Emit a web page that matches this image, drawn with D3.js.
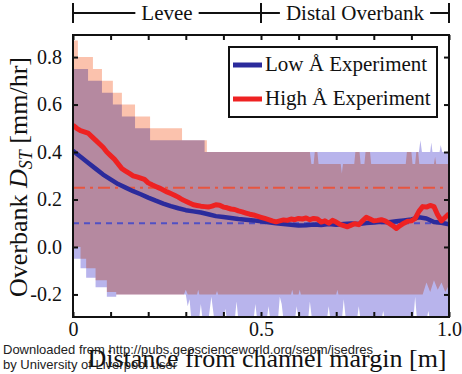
<!DOCTYPE html>
<html>
<head>
<meta charset="utf-8">
<script src="https://cdn.jsdelivr.net/npm/d3@7"></script>
<style>
  html, body { margin: 0; padding: 0; background: #fff; }
  svg { display: block; }
</style>
</head>
<body>
<svg id="chart" width="462" height="374"></svg>
<script>
// ---- data -------------------------------------------------------------
// Mean overbank deposition rate along the transect, per experiment
const lowX  = [0,0.02,0.04,0.06,0.08,0.10,0.12,0.14,0.16,0.18,0.20,0.22,0.24,0.26,0.28,0.30,0.32,0.34,0.36,0.38,0.40,0.42,0.44,0.46,0.48,0.50,0.52,0.54,0.56,0.58,0.60,0.62,0.64,0.66,0.68,0.70,0.72,0.74,0.76,0.78,0.80,0.82,0.84,0.86,0.88,0.90,0.92,0.94,0.96,0.98,1.00];
const lowMean = [0.405,0.38,0.355,0.33,0.305,0.285,0.265,0.25,0.235,0.222,0.208,0.195,0.183,0.172,0.163,0.155,0.15,0.145,0.138,0.13,0.126,0.122,0.118,0.115,0.112,0.108,0.104,0.10,0.097,0.094,0.09,0.092,0.095,0.093,0.097,0.094,0.097,0.099,0.097,0.101,0.103,0.106,0.104,0.108,0.112,0.116,0.125,0.12,0.105,0.102,0.095];

const highX = [0,0.01,0.02,0.03,0.04,0.05,0.06,0.07,0.08,0.09,0.10,0.11,0.12,0.13,0.14,0.15,0.16,0.17,0.18,0.19,0.20,0.21,0.22,0.23,0.24,0.25,0.26,0.27,0.28,0.29,0.30,0.31,0.32,0.33,0.34,0.35,0.36,0.37,0.38,0.39,0.40,0.41,0.42,0.43,0.44,0.45,0.46,0.47,0.48,0.49,0.50,0.51,0.52,0.53,0.54,0.55,0.56,0.57,0.58,0.59,0.60,0.61,0.62,0.63,0.64,0.65,0.66,0.67,0.68,0.69,0.70,0.71,0.72,0.73,0.74,0.75,0.76,0.77,0.78,0.79,0.80,0.81,0.82,0.83,0.84,0.85,0.86,0.87,0.88,0.89,0.90,0.91,0.92,0.93,0.94,0.95,0.96,0.97,0.98,0.99,1.00];
const highMean = [0.513,0.50,0.49,0.485,0.48,0.465,0.45,0.435,0.42,0.40,0.385,0.37,0.35,0.33,0.32,0.31,0.30,0.295,0.29,0.285,0.27,0.262,0.255,0.248,0.24,0.232,0.225,0.218,0.21,0.20,0.193,0.185,0.178,0.175,0.172,0.17,0.168,0.172,0.178,0.176,0.168,0.165,0.16,0.158,0.152,0.148,0.143,0.138,0.135,0.13,0.125,0.12,0.115,0.11,0.106,0.11,0.114,0.112,0.118,0.115,0.12,0.118,0.122,0.115,0.12,0.118,0.105,0.11,0.10,0.112,0.105,0.095,0.09,0.085,0.092,0.098,0.094,0.11,0.125,0.118,0.11,0.112,0.115,0.11,0.10,0.09,0.078,0.09,0.10,0.108,0.11,0.12,0.15,0.17,0.168,0.175,0.17,0.135,0.11,0.125,0.14];

// Envelope (min / max) of each experiment: [x, value] breakpoints.
// Staircase parts hold a value until the next x; noisy parts are joined directly.
const lowUpperSteps  = [[0,0.75],[0.04,0.70],[0.077,0.65],[0.106,0.60],[0.13,0.55],[0.165,0.50],[0.205,0.45],[0.35,0.40]];
const lowUpperTail   = [[0.35,0.40],[0.92,0.40],[0.924,0.45],[0.928,0.40],[0.95,0.40],[0.953,0.44],[0.956,0.40],[0.975,0.40],[0.978,0.43],[0.982,0.40],[1.0,0.40]];
const lowLowerSteps  = [[0,-0.05],[0.02,-0.09],[0.035,-0.13],[0.06,-0.17],[0.09,-0.21],[0.115,-0.20]];
const lowLowerTail   = [[0.115,-0.20],[0.30,-0.20],[0.305,-0.25],[0.31,-0.22],[0.315,-0.31],[0.335,-0.31],[0.34,-0.24],[0.345,-0.31],[0.36,-0.31],[0.368,-0.21],[0.376,-0.31],[0.40,-0.31],[0.405,-0.26],[0.41,-0.31],[0.43,-0.31],[0.435,-0.23],[0.44,-0.31],[0.48,-0.31],[0.485,-0.24],[0.49,-0.31],[0.515,-0.31],[0.52,-0.25],[0.525,-0.31],[0.545,-0.31],[0.55,-0.21],[0.555,-0.24],[0.56,-0.31],[0.59,-0.31],[0.595,-0.25],[0.60,-0.31],[0.625,-0.31],[0.63,-0.23],[0.636,-0.31],[0.675,-0.31],[0.68,-0.25],[0.685,-0.31],[0.715,-0.31],[0.72,-0.22],[0.726,-0.31],[0.755,-0.31],[0.76,-0.25],[0.765,-0.31],[0.82,-0.31],[0.825,-0.27],[0.83,-0.31],[0.905,-0.31],[0.91,-0.21],[0.915,-0.31],[0.94,-0.31],[0.945,-0.27],[0.95,-0.31],[1.0,-0.31]];

const highUpperSteps = [[0,0.87],[0.013,0.80],[0.053,0.75],[0.077,0.70],[0.106,0.65],[0.13,0.60],[0.165,0.55],[0.205,0.50],[0.29,0.45],[0.356,0.40]];
const highUpperTail  = [[0.356,0.40],[0.630,0.40],[0.634,0.35],[0.640,0.35],[0.643,0.40],[0.650,0.40],[0.653,0.35],[0.712,0.35],[0.715,0.31],[0.718,0.35],[0.748,0.35],[0.751,0.40],[0.762,0.40],[0.765,0.35],[0.775,0.35],[0.778,0.40],[0.790,0.40],[0.793,0.35],[0.885,0.35],[0.888,0.40],[0.900,0.40],[0.903,0.35],[0.910,0.35],[0.913,0.40],[0.918,0.40],[0.921,0.35],[0.960,0.35],[0.963,0.38],[0.966,0.35],[1.0,0.35]];
const highLowerSteps = [[0,0.0],[0.02,-0.05],[0.035,-0.09],[0.06,-0.14],[0.09,-0.19],[0.115,-0.20]];
const highLowerTail  = [[0.115,-0.20],[0.295,-0.20],[0.30,-0.18],[0.305,-0.20],[0.33,-0.20],[0.333,-0.18],[0.336,-0.20],[0.38,-0.20],[0.383,-0.185],[0.386,-0.20],[0.58,-0.20],[0.583,-0.18],[0.586,-0.20],[0.60,-0.20],[0.603,-0.18],[0.606,-0.20],[0.70,-0.20],[0.703,-0.18],[0.706,-0.20],[0.93,-0.20],[0.94,-0.15],[0.95,-0.19],[0.96,-0.14],[0.97,-0.18],[0.98,-0.15],[0.99,-0.19],[1.0,-0.16]];

// Long-term averages (horizontal reference lines)
const lowAverage  = 0.10;
const highAverage = 0.25;

// Axis ticks
const xTicks = [0,0.1,0.2,0.3,0.4,0.5,0.6,0.7,0.8,0.9,1.0];
const xTickLabels = {0:"0", 0.5:"0.5", 1:"1.0"};
const yTicks = [-0.2,0,0.2,0.4,0.6,0.8];
const yTickLabels = ["-0.2","0.0","0.2","0.4","0.6","0.8"];

// Region bracket above the plot
const zones = [{name:"Levee", from:0, to:0.5}, {name:"Distal Overbank", from:0.5, to:1.0}];
const seriesNames = ["Low Å Experiment", "High Å Experiment"];

// ---- layout ----------------------------------------------------------
const SERIF = '"Liberation Serif", "Times New Roman", serif';
const svg = d3.select("#chart");
const L = 73, R = 449, T = 35, B = 317;
const x = d3.scaleLinear().domain([0, 1]).range([L, R]);
const y = d3.scaleLinear().domain([-0.295, 0.893]).range([B, T]);

const colLowLine = "#2b2b9c", colHighLine = "#ee2222";
const colLowBand = "#b8b4ec", colHighBand = "#fbc2ad";

svg.append("defs").append("clipPath").attr("id", "plotclip")
  .append("rect").attr("x", L).attr("y", T).attr("width", R - L).attr("height", B - T);

// expand staircase breakpoints into corner points
function stairs(steps, endX) {
  const pts = [];
  steps.forEach((s, i) => {
    const next = i + 1 < steps.length ? steps[i + 1][0] : endX;
    pts.push([s[0], s[1]], [next, s[1]]);
  });
  return pts;
}
function envelope(upSteps, upTail, loSteps, loTail) {
  const up = stairs(upSteps, upTail[0][0]).concat(upTail);
  const lo = stairs(loSteps, loTail[0][0]).concat(loTail);
  return up.concat(lo.slice().reverse());
}
const poly = d3.line().x(d => x(d[0])).y(d => y(d[1])).curve(d3.curveLinear);

const bands = svg.append("g").attr("clip-path", "url(#plotclip)").style("isolation", "isolate");
bands.append("path")
  .attr("d", poly(envelope(lowUpperSteps, lowUpperTail, lowLowerSteps, lowLowerTail)) + "Z")
  .attr("fill", colLowBand);
bands.append("path")
  .attr("d", poly(envelope(highUpperSteps, highUpperTail, highLowerSteps, highLowerTail)) + "Z")
  .attr("fill", colHighBand)
  .style("mix-blend-mode", "multiply");

// averages
const refs = svg.append("g").attr("clip-path", "url(#plotclip)");
refs.append("line").attr("x1", L).attr("x2", R).attr("y1", y(highAverage)).attr("y2", y(highAverage))
  .attr("stroke", "#e8553f").attr("stroke-width", 2).attr("stroke-dasharray", "12,5,3,5");
refs.append("line").attr("x1", L).attr("x2", R).attr("y1", y(lowAverage)).attr("y2", y(lowAverage))
  .attr("stroke", "#5050c4").attr("stroke-width", 2).attr("stroke-dasharray", "6,5");

// mean curves
const meanLine = d3.line().x(d => x(d[0])).y(d => y(d[1])).curve(d3.curveLinear);
const lines = svg.append("g").attr("clip-path", "url(#plotclip)");
lines.append("path").datum(lowX.map((v, i) => [v, lowMean[i]]))
  .attr("d", meanLine).attr("fill", "none").attr("stroke", colLowLine)
  .attr("stroke-width", 4.5).attr("stroke-linejoin", "round");
lines.append("path").datum(highX.map((v, i) => [v, highMean[i]]))
  .attr("d", meanLine).attr("fill", "none").attr("stroke", colHighLine)
  .attr("stroke-width", 5).attr("stroke-linejoin", "round");

// axes: ticks on all four sides, pointing inward
const tickLen = 5;
const xb = svg.append("g").attr("transform", `translate(0,${B})`)
  .call(d3.axisBottom(x).tickValues(xTicks).tickSizeInner(-tickLen).tickSizeOuter(0)
    .tickFormat(d => xTickLabels[d] || ""));
const xt = svg.append("g").attr("transform", `translate(0,${T})`)
  .call(d3.axisTop(x).tickValues(xTicks).tickSizeInner(-tickLen).tickSizeOuter(0).tickFormat(""));
const yl = svg.append("g").attr("transform", `translate(${L},0)`)
  .call(d3.axisLeft(y).tickValues(yTicks).tickSizeInner(-tickLen).tickSizeOuter(0)
    .tickFormat((d, i) => yTickLabels[i]));
const yr = svg.append("g").attr("transform", `translate(${R},0)`)
  .call(d3.axisRight(y).tickValues(yTicks).tickSizeInner(-tickLen).tickSizeOuter(0).tickFormat(""));
[xb, xt, yl, yr].forEach(g => {
  g.select(".domain").remove();
  g.selectAll(".tick line").attr("stroke", "#111").attr("stroke-width", 2);
  g.selectAll(".tick text").style("font-family", SERIF).style("font-size", "20px").attr("fill", "#111");
});
xb.selectAll(".tick text").attr("dy", null).attr("y", 19);
yl.selectAll(".tick text").attr("x", -11);

svg.append("rect").attr("x", L).attr("y", T).attr("width", R - L).attr("height", B - T)
  .attr("fill", "none").attr("stroke", "#111").attr("stroke-width", 2);

// region bracket
const brY = 13;
const br = svg.append("g");
const brEnds = [0, 0.5, 1.0];
brEnds.forEach(v => br.append("line").attr("x1", x(v)).attr("x2", x(v)).attr("y1", 3).attr("y2", 23)
  .attr("stroke", "#111").attr("stroke-width", 2));
zones.forEach(z => {
  const cx = (x(z.from) + x(z.to)) / 2;
  const t = br.append("text").style("font-family", SERIF).attr("fill", "#111").attr("x", cx).attr("y", 20)
    .attr("text-anchor", "middle").style("font-size", "21px").text(z.name);
  const w = t.node().getComputedTextLength();
  br.append("line").attr("x1", x(z.from)).attr("x2", cx - w / 2 - 6).attr("y1", brY).attr("y2", brY)
    .attr("stroke", "#111").attr("stroke-width", 2);
  br.append("line").attr("x1", cx + w / 2 + 6).attr("x2", x(z.to)).attr("y1", brY).attr("y2", brY)
    .attr("stroke", "#111").attr("stroke-width", 2);
});

// legend
const lg = svg.append("g");
lg.append("rect").attr("x", 229).attr("y", 47).attr("width", 208).attr("height", 70)
  .attr("fill", "#fff").attr("stroke", "#111").attr("stroke-width", 2);
[colLowLine, colHighLine].forEach((c, i) => {
  const yy = 65 + i * 34;
  lg.append("line").attr("x1", 233).attr("x2", 262).attr("y1", yy).attr("y2", yy)
    .attr("stroke", c).attr("stroke-width", 5);
  lg.append("text").style("font-family", SERIF).attr("fill", "#111").attr("x", 265).attr("y", yy + 6)
    .style("font-size", "21px").text(seriesNames[i]);
});

// axis titles
svg.append("text").style("font-family", SERIF).attr("fill", "#111").attr("x", 267).attr("y", 367)
  .attr("text-anchor", "middle").style("font-size", "26px").text("Distance from channel margin [m]");
const yt = svg.append("text").style("font-family", SERIF).attr("fill", "#111")
  .attr("transform", "translate(27,177) rotate(-90)").attr("text-anchor", "middle").style("font-size", "26px");
yt.append("tspan").text("Overbank ");
yt.append("tspan").style("font-style", "italic").text("D");
yt.append("tspan").style("font-style", "italic").style("font-size", "18px").attr("dy", 5).text("ST");
yt.append("tspan").attr("dy", -5).text(" [mm/hr]");

// source note
const note = svg.append("g").style("font-family", "'Liberation Sans', Arial, sans-serif")
  .style("font-size", "13px").attr("fill", "#222");
note.append("text").attr("x", 3).attr("y", 354).text("Downloaded from http://pubs.geoscienceworld.org/sepm/jsedres");
note.append("text").attr("x", 3).attr("y", 369).text("by University of Liverpool user");
</script>
</body>
</html>
